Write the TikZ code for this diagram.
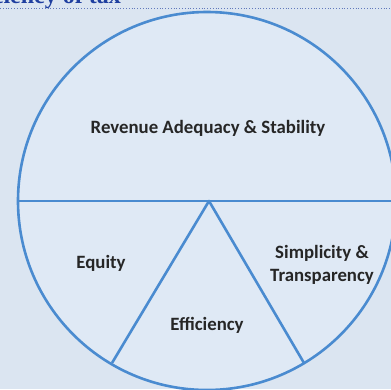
\documentclass[tikz,border=0pt]{standalone}
\usepackage{fontspec}
\setmainfont{Carlito}
\newfontfamily\serifhead{Liberation Serif}
\definecolor{bgblue}{HTML}{DBE5F1}
\definecolor{inblue}{HTML}{DFE9F5}
\definecolor{lineblue}{HTML}{4A8BD0}
\definecolor{txtgray}{HTML}{262626}
\definecolor{headblue}{HTML}{1F3FA0}
\tikzset{
  seg/.style={draw=lineblue, line width=2.6pt},
  lbl/.style={font=\bfseries\fontsize{18.8}{23}\selectfont, text=txtgray, align=center, inner sep=0pt},
}
\begin{document}
\begin{tikzpicture}[x=1pt,y=-1pt]
\useasboundingbox (0,0) rectangle (391,389);
\clip (0,0) rectangle (391,389);
\fill[bgblue] (0,0) rectangle (391,389);
\node[anchor=base east, inner sep=0pt, text=headblue, font=\serifhead\bfseries\fontsize{24}{26}\selectfont] (head) at (121,3.5) {Efficiency of tax};
\draw[headblue!70, line width=0.8pt, dotted] (0,8) -- (391,8);
\coordinate (c) at (207,201);
\fill[inblue] (c) circle (189);
\coordinate (apex) at (209,201);
\coordinate (bl) at (112,363);
\coordinate (br) at (304,363);
\coordinate (hl) at (18,201);
\coordinate (hr) at (395,201);
\draw[seg] (c) circle (189);
\draw[seg] (hl) -- (hr);
\draw[seg, line join=round] (bl) -- (apex) -- (br);
\node[lbl] (rev) at (208,128) {Revenue Adequacy \& Stability};
\node[lbl] (eq) at (101,263) {Equity};
\node[lbl] (eff) at (207,325) {Efficiency};
\node[lbl] (simp) at (322,265) {Simplicity \&\\Transparency};
\end{tikzpicture}
\end{document}
